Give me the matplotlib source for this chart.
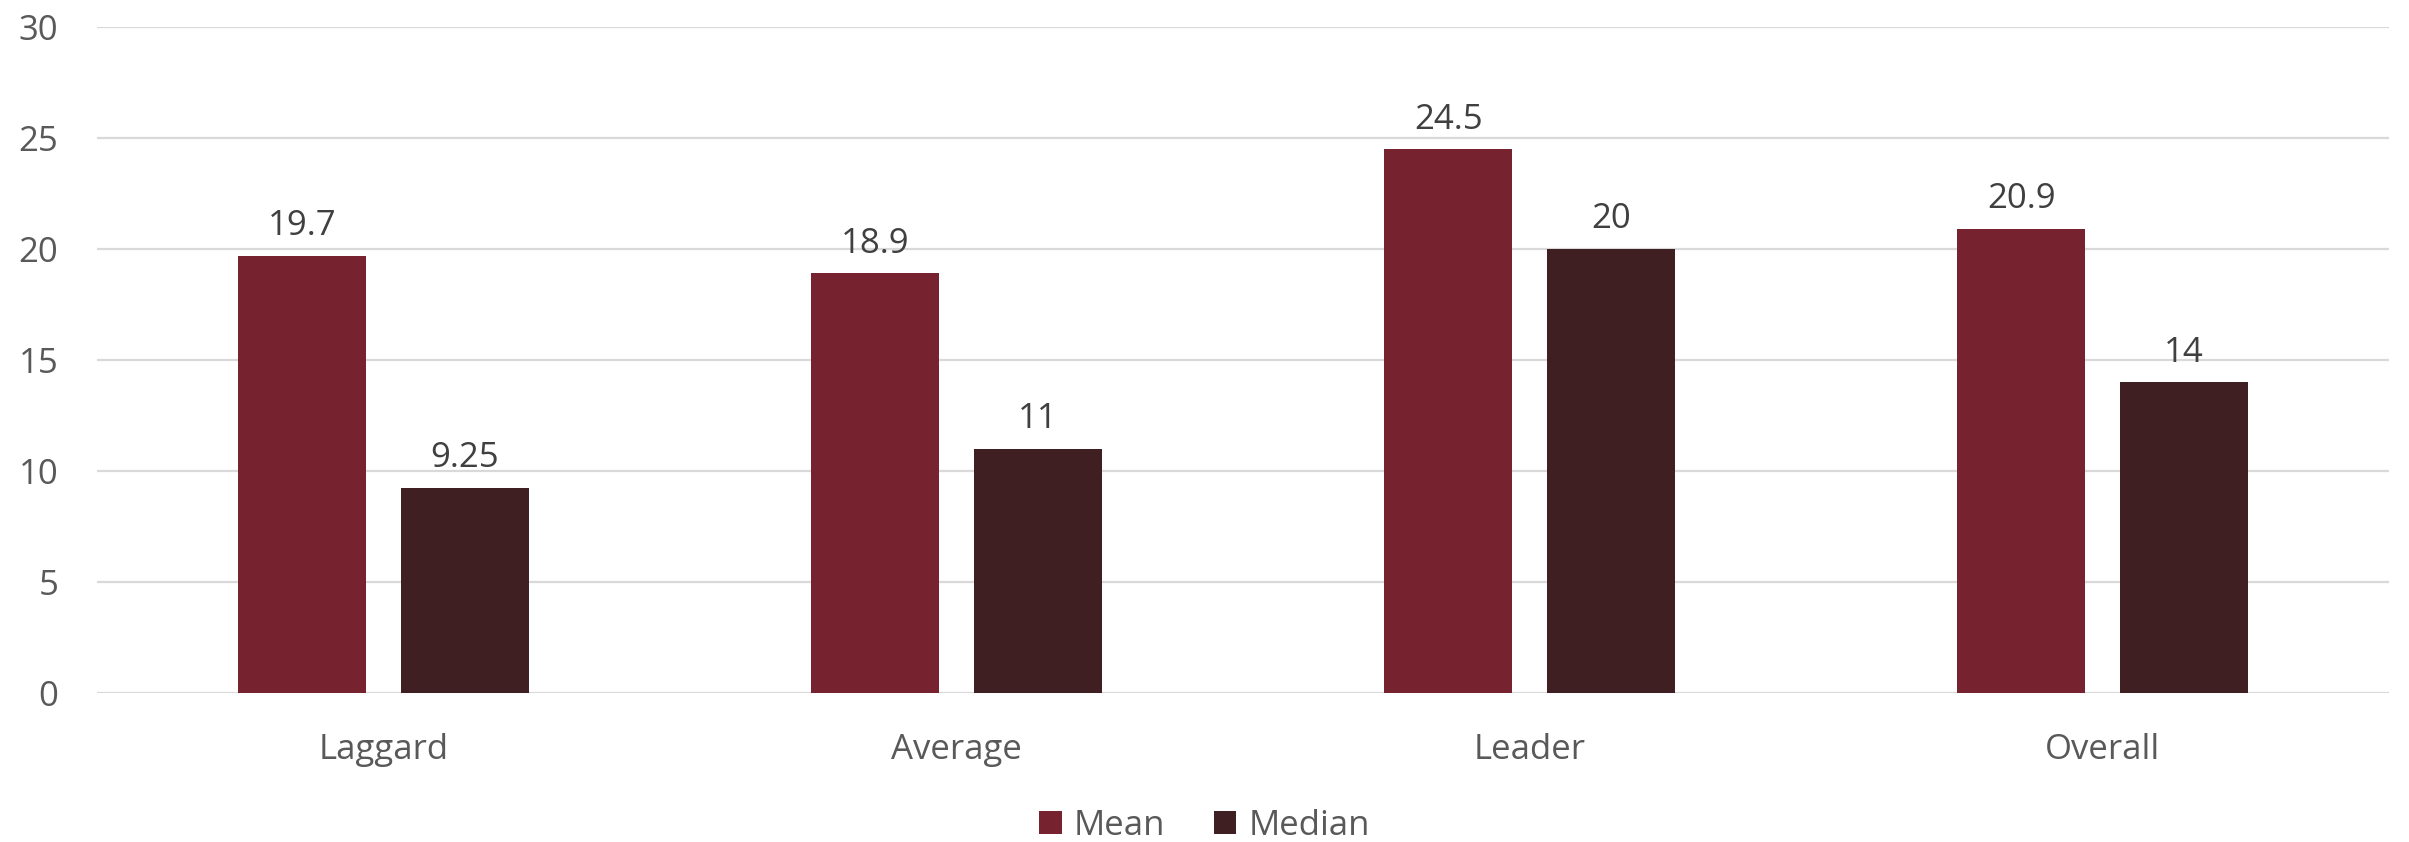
import numpy as np
import matplotlib.pyplot as plt

categories = ["Laggard", "Average", "Leader", "Overall"]
mean_vals = [19.7, 18.9, 24.5, 20.9]
median_vals = [9.25, 11, 20, 14]
mean_labels = ["19.7", "18.9", "24.5", "20.9"]
median_labels = ["9.25", "11", "20", "14"]

plt.rcParams["font.family"] = ["Open Sans", "DejaVu Sans"]
text_color = "#595959"
label_color = "#404040"
fs = 25

fig = plt.figure(figsize=(24.09, 8.42), dpi=100)
ax = fig.add_axes([0.0403, 0.177, 0.9514, 0.791])

x = np.arange(len(categories))
width = 0.223
offset = 0.142

b1 = ax.bar(x - offset, mean_vals, width, color="#77222F", label="Mean", zorder=3)
b2 = ax.bar(x + offset, median_vals, width, color="#3F1F21", label="Median", zorder=3)

for bars, labels in ((b1, mean_labels), (b2, median_labels)):
    ax.bar_label(bars, labels=labels, padding=9, fontsize=fs, color=label_color)

ax.set_xlim(-0.5, len(categories) - 0.5)
ax.set_ylim(0, 30)
ax.set_yticks(range(0, 31, 5))
ax.set_xticks(x)
ax.set_xticklabels(categories)
ax.yaxis.grid(True, color="#D9D9D9", linewidth=1.6, zorder=0)
ax.tick_params(axis="y", length=0, pad=28, labelsize=fs, labelcolor=text_color)
ax.tick_params(axis="x", length=0, pad=29, labelsize=fs, labelcolor=text_color)
for s in ax.spines.values():
    s.set_visible(False)

fig.legend(loc="center", bbox_to_anchor=(0.5, 0.019), ncol=2, frameon=False,
           fontsize=fs, labelcolor=text_color, handlelength=0.65, handleheight=0.65,
           handletextpad=0.35, columnspacing=1.4)

fig.savefig("out.png", dpi=100)
